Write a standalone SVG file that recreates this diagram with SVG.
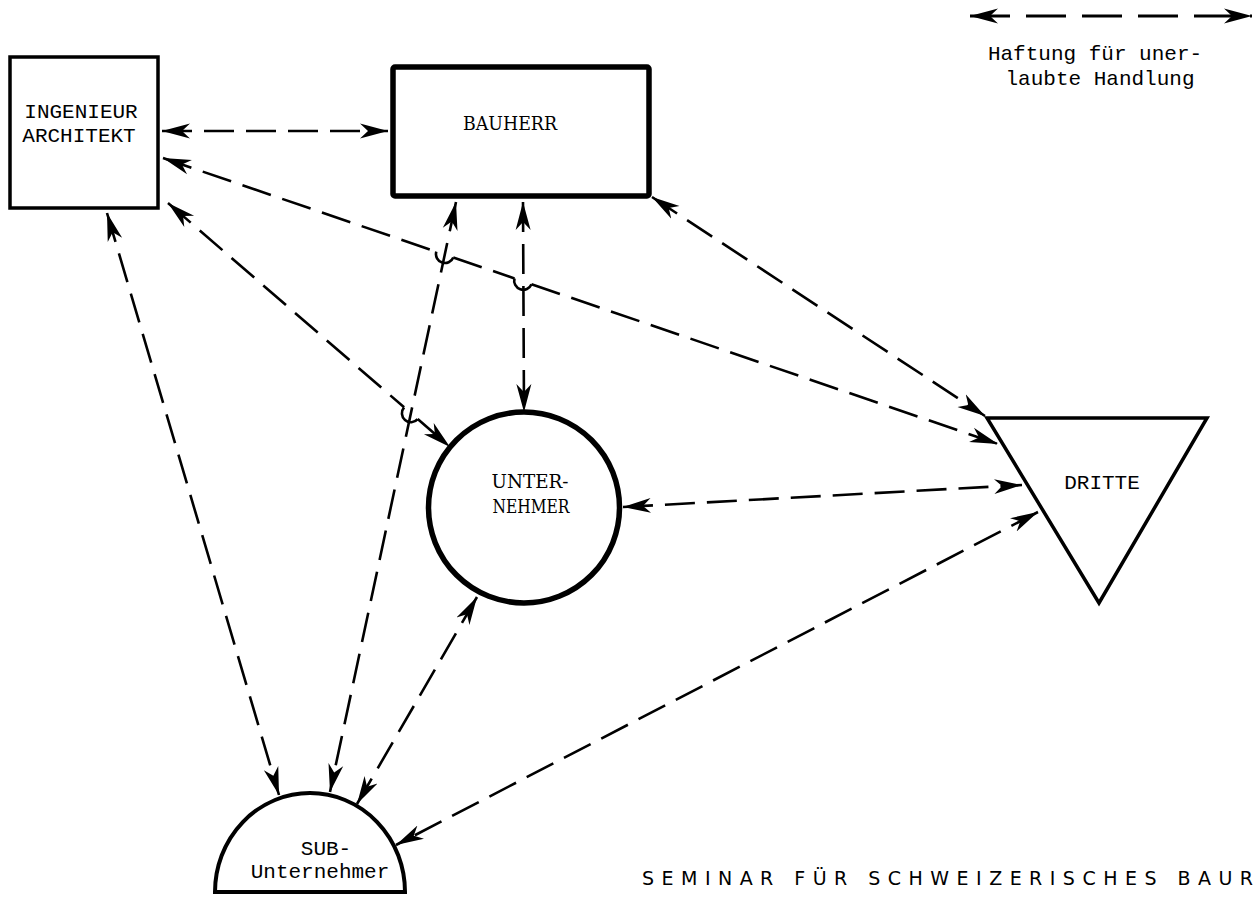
<svg xmlns="http://www.w3.org/2000/svg" width="1255" height="899" viewBox="0 0 1255 899">
<style>
.shape{fill:#fff;stroke:#000}
.mono{font-family:"Liberation Mono","DejaVu Sans Mono",monospace;font-size:21px;fill:#000}
.slab{font-family:"DejaVu Serif","Liberation Serif",serif;font-size:19px;fill:#000}
.con{fill:none;stroke:#000;stroke-width:2.6;stroke-dasharray:30 12}
.hop{fill:none;stroke:#000;stroke-width:2.6}
.leg{fill:none;stroke:#000;stroke-width:2.8;stroke-dasharray:40 16}
</style>
<defs>
<marker id="ah" markerUnits="userSpaceOnUse" markerWidth="32" markerHeight="18" refX="28" refY="8" orient="auto-start-reverse" viewBox="0 0 32 18">
<path d="M0,0.5 L28,8 L0,15.5 L8,8 Z" fill="#000"/>
</marker>
</defs>
<rect width="1255" height="899" fill="#fff"/>

<g id="connectors">
<line class="con" x1="162" y1="131" x2="388" y2="131" marker-start="url(#ah)" marker-end="url(#ah)"/>
<path class="con" d="M163,158 L436.3,251.7" marker-start="url(#ah)"/>
<path class="hop" d="M436.3,251.7 A9 9 0 0 0 453.3,257.5"/>
<path class="con" d="M453.3,257.5 L514.5,278.4"/>
<path class="hop" d="M514.5,278.4 A9 9 0 0 0 531.5,284.2"/>
<path class="con" d="M531.5,284.2 L998,444" marker-end="url(#ah)"/>
<path class="con" d="M168,203 L404.1,407.3" marker-start="url(#ah)"/>
<path class="hop" d="M404.1,407.3 A9 9 0 0 0 417.7,419.1"/>
<path class="con" d="M417.7,419.1 L450,447" marker-end="url(#ah)"/>
<line class="con" x1="107" y1="213" x2="279" y2="795" marker-start="url(#ah)" marker-end="url(#ah)"/>
<line class="con" x1="456" y1="202" x2="330" y2="792" marker-start="url(#ah)" marker-end="url(#ah)"/>
<line class="con" x1="523" y1="202" x2="524" y2="412" marker-start="url(#ah)" marker-end="url(#ah)"/>
<line class="con" x1="652" y1="197" x2="985" y2="416" marker-start="url(#ah)" marker-end="url(#ah)"/>
<line class="con" x1="623" y1="507" x2="1022" y2="485" marker-start="url(#ah)" marker-end="url(#ah)"/>
<line class="con" x1="477" y1="597" x2="357" y2="804" marker-start="url(#ah)" marker-end="url(#ah)"/>
<line class="con" x1="1038" y1="512" x2="396" y2="845" marker-start="url(#ah)" marker-end="url(#ah)"/>
</g>

<g id="ingenieur">
<rect class="shape" x="10" y="57" width="148" height="151" stroke-width="3.5"/>
<text class="mono" x="81" y="118" text-anchor="middle">INGENIEUR</text>
<text class="mono" x="79" y="142" text-anchor="middle">ARCHITEKT</text>
</g>

<g id="bauherr">
<rect class="shape" x="393" y="67" width="256" height="129" rx="2" stroke-width="5.5"/>
<text class="slab" x="510" y="130" text-anchor="middle" textLength="94" lengthAdjust="spacingAndGlyphs">BAUHERR</text>
</g>

<g id="unternehmer">
<circle class="shape" cx="524" cy="507.5" r="95.5" stroke-width="5.5"/>
<text class="slab" x="530" y="488" text-anchor="middle" textLength="77" lengthAdjust="spacingAndGlyphs">UNTER-</text>
<text class="slab" x="531" y="513" text-anchor="middle" textLength="77" lengthAdjust="spacingAndGlyphs">NEHMER</text>
</g>

<g id="dritte">
<polygon class="shape" points="987,418 1207,418 1099,603" stroke-width="3.5"/>
<text class="mono" x="1102" y="489" text-anchor="middle">DRITTE</text>
</g>

<g id="subunternehmer">
<path class="shape" d="M215,892 A95 99 0 0 1 405,892 Z" stroke-width="4"/>
<text class="mono" x="326" y="855" text-anchor="middle">SUB-</text>
<text class="mono" x="320" y="878" text-anchor="middle">Unternehmer</text>
</g>

<g id="legend">
<line class="leg" x1="970" y1="16" x2="1252" y2="16" marker-start="url(#ah)" marker-end="url(#ah)"/>
<text class="mono" x="1095" y="60" text-anchor="middle" font-size="20">Haftung für uner-</text>
<text class="mono" x="1100" y="85" text-anchor="middle" font-size="20">laubte Handlung</text>
</g>

<text x="642" y="885" font-family="DejaVu Sans, Liberation Sans, sans-serif" font-size="19" fill="#000" textLength="611" lengthAdjust="spacing">SEMINAR FÜR SCHWEIZERISCHES BAUR</text>
</svg>
